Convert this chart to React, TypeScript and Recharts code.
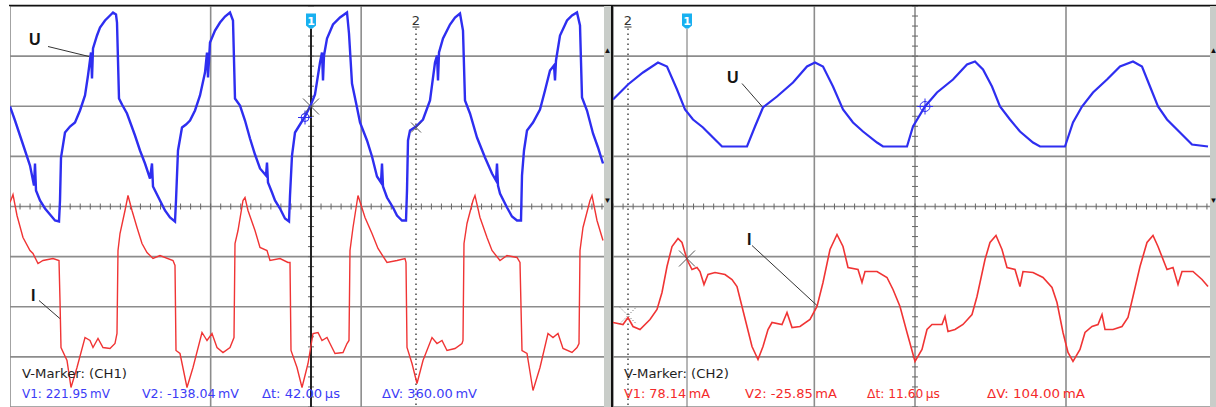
import React from 'react'
import { LineChart, Line, XAxis, YAxis, CartesianGrid, ReferenceLine, ReferenceDot } from 'recharts'

type Sample = [number, number]

// CH1 screen: 20 µs/div, CH2 screen: 10 µs/div.
// Levels are in hundredths of a division, 0 = centre line.
const ch1Voltage: Sample[] = [
  [0, 200], [2, 172], [4, 142], [6, 112], [8, 82], [9.6, 42], [10, 86], [10.4, 32], [12, 12], [14, -4],
  [16, -16], [18, -28], [19.6, -30], [20, 12], [20.4, 98], [22, 148], [24, 160], [26, 168], [28, 192],
  [30, 222], [31.2, 262], [32.4, 308], [32.8, 256], [33.2, 316], [34.8, 342], [36, 358], [38, 372],
  [40, 382], [41.2, 388], [42.4, 384], [42.8, 368], [43.2, 292], [43.6, 216], [44.8, 204], [46.8, 186],
  [48.4, 164], [50, 142], [52, 112], [54, 86], [56, 56], [56.8, 86], [57.2, 40], [58, 32], [60, 12],
  [62, -8], [64, -22], [66, -30], [66.4, 12], [67.2, 112], [68.8, 158], [70.4, 164], [72, 172], [74, 192],
  [76, 222], [78, 268], [78.8, 308], [79.2, 258], [80, 328], [82, 352], [84, 368], [86, 380], [88, 388],
  [89.2, 372], [90, 216], [92, 202], [94, 172], [96, 136], [98, 104], [100, 76], [102.4, 62], [102.8, 88],
  [103.2, 48], [104.8, 28], [106, 12], [108, -4], [110, -24], [111.6, -30], [112, 22], [112.8, 102],
  [114, 148], [116, 164], [118, 180], [120.4, 204], [122, 224], [124, 288], [124.8, 308], [125.2, 252],
  [125.6, 302], [126.8, 336], [129.2, 364], [132, 378], [134.8, 388], [135.6, 346], [136.8, 246],
  [138.8, 198], [140, 168], [142.8, 132], [144.8, 100], [146.8, 60], [148.4, 48], [148.8, 86], [149.2, 40],
  [150.8, 18], [153.2, -2], [154.8, -18], [156.8, -28], [158.4, -28], [158.8, 32], [159.2, 132], [160, 152],
  [162.4, 160], [165.2, 174], [168, 212], [170, 288], [170.8, 302], [171.2, 252], [171.6, 308], [173.2, 336],
  [176, 364], [178, 378], [180, 386], [181.2, 352], [182, 212], [184, 186], [186.8, 138], [190, 98],
  [192.8, 66], [194.4, 52], [194.8, 86], [195.2, 42], [196, 26], [198.8, -2], [200.8, -20], [202.8, -28],
  [204.4, -28], [204.8, 62], [205.6, 112], [206.8, 152], [209.2, 168], [212, 194], [214, 232], [216, 272],
  [217.6, 282], [218, 252], [218.4, 292], [220, 342], [222.8, 372], [224.8, 382], [226.8, 388], [228, 362],
  [228.8, 218], [230.8, 192], [233.2, 146], [235.2, 118], [237.2, 86],
]

const ch1Current: Sample[] = [
  [0, 8], [1.2, 24], [2.8, -18], [5.2, -62], [8, -88], [9.2, -94], [11.2, -114], [13.2, -108], [17.2, -104],
  [19.6, -108], [20, -188], [20.4, -282], [22.8, -308], [24.4, -362], [26.8, -322], [30, -262], [32, -268],
  [33.2, -282], [35.2, -264], [37.2, -282], [40, -284], [42, -274], [42.8, -254], [43.2, -88], [44, -54],
  [46, -8], [47.2, 22], [48.8, -8], [50.8, -42], [52.8, -74], [54.8, -92], [57.2, -104], [60, -98],
  [65.2, -108], [66, -118], [66.4, -288], [68, -294], [70.8, -362], [73.2, -322], [76.8, -252], [78.8, -268],
  [80.8, -254], [82.8, -282], [85.2, -292], [88, -282], [89.6, -262], [90, -74], [91.2, -48], [93.2, 12],
  [94, 18], [95.2, -8], [98, -48], [100, -82], [102.8, -88], [104, -108], [108, -104], [111.2, -112],
  [112, -112], [112.4, -288], [114.8, -322], [116.8, -362], [119.2, -314], [121.2, -254], [123.2, -252],
  [124.8, -268], [126.8, -262], [128, -274], [130, -294], [133.2, -292], [134.8, -274], [135.6, -268],
  [136, -88], [137.2, -42], [139.2, 22], [142, -22], [144.8, -54], [147.2, -84], [150.8, -112], [154.8, -108],
  [158, -104], [158.4, -112], [158.8, -282], [160.8, -314], [162.8, -354], [165.2, -308], [168.8, -262],
  [170.8, -274], [172.8, -268], [174.8, -288], [178, -284], [180.8, -274], [181.2, -268], [181.6, -74],
  [182.8, -34], [185.2, 12], [186, 22], [188, -22], [190.8, -62], [192.8, -88], [196, -108], [198.8, -98],
  [202.8, -102], [204, -112], [204.8, -288], [206.8, -294], [209.2, -368], [212, -322], [215.2, -254],
  [217.2, -262], [219.2, -254], [221.2, -284], [224.8, -292], [226.8, -282], [227.6, -274], [228, -88],
  [229.2, -42], [232, 12], [232.8, 22], [234.8, -28], [237.2, -68],
]

const ch2Voltage: Sample[] = [
  [0, 214], [3, 244], [6, 268], [9, 288], [10.8, 280], [12.8, 234], [14.4, 194], [16, 174], [18, 158],
  [20, 138], [21.8, 120], [26.8, 120], [28.4, 160], [30, 198], [32.8, 220], [36, 248], [38.8, 280],
  [40.4, 288], [42, 280], [44, 240], [46, 194], [48, 168], [50, 150], [52.8, 128], [54, 120], [58.8, 120],
  [60, 160], [62.4, 200], [64.8, 228], [68, 254], [70.8, 284], [72.4, 290], [74, 274], [75.8, 240],
  [77.4, 200], [79.4, 174], [81.4, 150], [84, 128], [85.4, 120], [90.4, 120], [92, 168], [93.8, 200],
  [96, 228], [98.8, 254], [101.4, 280], [104, 290], [105.8, 280], [107.4, 240], [109, 200], [110.8, 174],
  [113.4, 148], [115.8, 124], [119, 120],
]

const ch2Current: Sample[] = [
  [0, -232], [2, -236], [3, -222], [4, -240], [5.4, -246], [7.4, -226], [8.8, -206], [9.8, -172],
  [10.8, -120], [11.8, -80], [13, -64], [13.8, -72], [14.8, -106], [15.8, -126], [16.8, -122], [17.4, -130],
  [18.2, -156], [19, -136], [20.4, -132], [22.4, -136], [23.8, -146], [24.8, -160], [25.8, -200],
  [26.8, -240], [27.8, -280], [29, -306], [30, -280], [31, -246], [31.8, -232], [33.8, -236], [34.8, -212],
  [35.8, -242], [37.4, -240], [39.4, -226], [40.8, -200], [42, -152], [43.4, -86], [44.8, -56], [46, -80],
  [47, -122], [49, -126], [49.8, -152], [50.4, -130], [52.8, -130], [54.8, -142], [56, -166], [57.4, -200],
  [58.8, -252], [60.4, -310], [61.8, -286], [62.8, -246], [63.8, -236], [65.8, -236], [66.4, -220],
  [67, -250], [68.4, -246], [70, -236], [71.8, -216], [72.8, -180], [74.4, -106], [75.4, -72], [76.6, -58],
  [77.8, -86], [78.8, -122], [80.4, -126], [81.4, -160], [82, -130], [84, -132], [86, -142], [87.8, -162],
  [88.8, -192], [90, -252], [91, -292], [92, -310], [93.4, -286], [94.4, -252], [95.8, -240], [97, -236],
  [97.8, -216], [98.4, -246], [100, -246], [101.8, -240], [103, -222], [104, -180], [105.4, -120],
  [106.8, -72], [108, -58], [109, -80], [110.8, -126], [112, -122], [113, -156], [113.8, -130], [116, -130],
  [117.8, -146], [119, -160],
]

const ch1Readout = ['V1: 221.95\u2009mV', 'V2: -138.04\u2009mV', '\u0394t: 42.00\u2009\u00b5s', '\u0394V: 360.00\u2009mV']
const ch2Readout = ['V1: 78.14\u2009mA', 'V2: -25.85\u2009mA', '\u0394t: 11.60\u2009\u00b5s', '\u0394V: 104.00\u2009mA']

// rendered widths of the readout strings (px)
const ch1ReadoutWidths = [88, 97, 78, 95]
const ch2ReadoutWidths = [86, 92, 73, 98]
const ch1ReadoutX = [22, 142, 262, 382]
const ch2ReadoutX = [624, 745, 867, 987]

const H = 401
const V_MAX = 401
const BLUE = '#2e2ef0'
const RED = '#f03434'
const GRID = '#8c8c8c'
const CURSOR = '#3a3a3a'

interface Tag { text: string; at: Sample; from: Sample; to: Sample }
interface Cross { at: Sample; size: number; kind: 'x' | 'dotted' | 'ring' }

interface ScopeProps {
  width: number
  tMax: number
  u: Sample[]
  i: Sample[]
  cursor1: number
  cursor2: number
  darkCentre: boolean
  tags: Tag[]
  crosses: Cross[]
  uWidth: number
  iWidth: number
}

const toRows = (s: Sample[]) => s.map(([t, v]) => ({ t, v }))

function crossShape(c: Cross) {
  return (p: any) => {
    const { cx, cy } = p
    const s = c.size
    if (c.kind === 'ring') {
      return (
        <g stroke={BLUE} strokeWidth={1} fill="none">
          <circle cx={cx} cy={cy} r={s} />
          <line x1={cx - s - 3} y1={cy} x2={cx + s + 3} y2={cy} />
          <line x1={cx} y1={cy - s - 3} x2={cx} y2={cy + s + 3} />
        </g>
      )
    }
    return (
      <g stroke="#555" strokeWidth={1} strokeDasharray={c.kind === 'dotted' ? '1 2' : undefined}>
        <line x1={cx - s} y1={cy - s} x2={cx + s} y2={cy + s} />
        <line x1={cx - s} y1={cy + s} x2={cx + s} y2={cy - s} />
      </g>
    )
  }
}

function Scope({ width, tMax, u, i, cursor1, cursor2, darkCentre, tags, crosses, uWidth, iWidth }: ScopeProps) {
  const xTicks = Array.from({ length: 13 }, (_, k) => (k * tMax) / 12)
  const yTicks = Array.from({ length: 9 }, (_, k) => ((k - 4) * V_MAX) / 4)
  const tc = xTicks[6]
  const tPx = tMax / width
  const vPx = (2 * V_MAX) / H
  const minorT = Array.from({ length: 61 }, (_, k) => (k * tMax) / 60)
  const minorV = Array.from({ length: 41 }, (_, k) => -V_MAX + (k * 2 * V_MAX) / 40)
  const cursorTop = 356

  return (
    <LineChart width={width} height={H} margin={{ top: 0, right: 0, bottom: 0, left: 0 }}>
      <XAxis type="number" dataKey="t" domain={[0, tMax]} ticks={xTicks} hide allowDataOverflow />
      <YAxis type="number" domain={[-V_MAX, V_MAX]} ticks={yTicks} hide allowDataOverflow />
      <CartesianGrid stroke={GRID} strokeWidth={1.6} />

      {/* minor ticks on both centre axes */}
      {minorT.map((t) => (
        <ReferenceLine key={'mt' + t} segment={[{ x: t, y: -3 * vPx }, { x: t, y: 3 * vPx }]} stroke="#666" strokeWidth={1} />
      ))}
      {minorV.map((v) => (
        <ReferenceLine key={'mv' + v} segment={[{ x: tc - 3 * tPx, y: v }, { x: tc + 3 * tPx, y: v }]} stroke="#666" strokeWidth={1} />
      ))}

      {/* cursor 1 (solid) and cursor 2 (dotted) */}
      <ReferenceLine
        segment={[{ x: cursor1, y: cursorTop }, { x: cursor1, y: -V_MAX }]}
        stroke={darkCentre ? '#222' : '#6e6e6e'}
        strokeWidth={darkCentre ? 2 : 1}
      />
      <ReferenceLine
        segment={[{ x: cursor2, y: cursorTop }, { x: cursor2, y: -V_MAX }]}
        stroke={CURSOR}
        strokeWidth={1.4}
        strokeDasharray="1.5 3.5"
      />
      <ReferenceDot
        x={cursor1}
        y={370}
        r={0}
        shape={(p: any) => (
          <g>
            <path
              d={`M${p.cx - 5},${p.cy - 8} h10 v12 l-3.5,3 h-3 l-3.5,-3 z`}
              fill="#18b0f0"
            />
            <text x={p.cx} y={p.cy + 3} textAnchor="middle" fontSize={11} fontWeight="bold" fill="#fff" fontFamily="DejaVu Sans">1</text>
          </g>
        )}
      />
      <ReferenceDot
        x={cursor2}
        y={364}
        r={0}
        shape={(p: any) => (
          <g>
            <text x={p.cx} y={p.cy} textAnchor="middle" fontSize={13} fill="#333" fontFamily="DejaVu Sans">2</text>
            <line x1={p.cx - 3.5} y1={p.cy + 2.5} x2={p.cx + 3.5} y2={p.cy + 2.5} stroke="#333" strokeWidth={1} />
          </g>
        )}
      />

      {tags.map((g) => (
        <ReferenceLine
          key={'leader' + g.text}
          segment={[{ x: g.from[0], y: g.from[1] }, { x: g.to[0], y: g.to[1] }]}
          stroke="#333"
          strokeWidth={1}
        />
      ))}

      <Line data={toRows(i)} dataKey="v" type="linear" stroke={RED} strokeWidth={iWidth} dot={false} isAnimationActive={false} />
      <Line data={toRows(u)} dataKey="v" type="linear" stroke={BLUE} strokeWidth={uWidth} dot={false} isAnimationActive={false} />

      {crosses.map((c, k) => (
        <ReferenceDot key={'cross' + k} x={c.at[0]} y={c.at[1]} r={0} shape={crossShape(c)} />
      ))}
      {tags.map((g) => (
        <ReferenceDot
          key={'tag' + g.text}
          x={g.at[0]}
          y={g.at[1]}
          r={0}
          shape={(p: any) => (
            <text x={p.cx} y={p.cy} fontSize={16} fontWeight="bold" fill="#141414" fontFamily="Liberation Sans">
              {g.text}
            </text>
          )}
        />
      ))}
    </LineChart>
  )
}

function Readout({ x, title, items, xs, widths, color }: {
  x: number; title: string; items: string[]; xs: number[]; widths: number[]; color: string
}) {
  return (
    <g fontFamily="DejaVu Sans" fontSize={13}>
      <text x={x} y={378} fill="#1e1e1e" textLength={105} lengthAdjust="spacingAndGlyphs">{title}</text>
      {items.map((s, k) => (
        <text key={s} x={xs[k]} y={398} fill={color} textLength={widths[k]} lengthAdjust="spacingAndGlyphs">{s}</text>
      ))}
    </g>
  )
}

function ScrollBar({ x }: { x: number }) {
  return (
    <g>
      <rect x={x} y={6} width={7} height={401} fill="#c9cdc9" />
      <text x={x + 3.5} y={53} textAnchor="middle" fontSize={8} fill="#111">▲</text>
      <text x={x + 3.5} y={203} textAnchor="middle" fontSize={8} fill="#111">▼</text>
    </g>
  )
}

export default function App() {
  return (
    <div style={{ position: 'fixed', left: 0, top: 0, width: 1216, height: 407, background: '#fff', overflow: 'hidden' }}>
      <div style={{ position: 'absolute', left: 10, top: 6 }}>
        <Scope
          width={602}
          tMax={240.8}
          u={ch1Voltage}
          i={ch1Current}
          cursor1={120.4}
          cursor2={162.4}
          darkCentre
          uWidth={2.4}
          iWidth={1.4}
          tags={[
            { text: 'U', at: [7.6, 324], from: [15.2, 320], to: [31.6, 300] },
            { text: 'I', at: [8.4, -188], from: [11.6, -188], to: [20.4, -226] },
          ]}
          crosses={[
            { at: [120.4, 200], size: 8, kind: 'x' },
            { at: [118, 178], size: 4, kind: 'ring' },
            { at: [162.4, 158], size: 5, kind: 'x' },
          ]}
        />
      </div>
      <div style={{ position: 'absolute', left: 613, top: 6 }}>
        <Scope
          width={604}
          tMax={120.8}
          u={ch2Voltage}
          i={ch2Current}
          cursor1={14.8}
          cursor2={3}
          darkCentre={false}
          uWidth={2.2}
          iWidth={1.6}
          tags={[
            { text: 'U', at: [22.8, 248], from: [25.8, 246], to: [30, 198] },
            { text: 'I', at: [26.8, -76], from: [27.8, -78], to: [40.8, -198] },
          ]}
          crosses={[
            { at: [14.8, -104], size: 8, kind: 'x' },
            { at: [3, -218], size: 8, kind: 'dotted' },
            { at: [62.4, 200], size: 5, kind: 'ring' },
          ]}
        />
      </div>
      <svg width={1216} height={407} style={{ position: 'absolute', left: 0, top: 0, pointerEvents: 'none' }}>
        <line x1={9} y1={5.5} x2={1216} y2={5.5} stroke="#111" strokeWidth={1.5} />
        <ScrollBar x={604} />
        <rect x={611} y={5} width={2} height={402} fill="#111" />
        <ScrollBar x={1210} />
        <Readout x={22} title="V-Marker: (CH1)" items={ch1Readout} xs={ch1ReadoutX} widths={ch1ReadoutWidths} color="#3c3cf6" />
        <Readout x={624} title="V-Marker: (CH2)" items={ch2Readout} xs={ch2ReadoutX} widths={ch2ReadoutWidths} color="#f42a2a" />
      </svg>
    </div>
  )
}
